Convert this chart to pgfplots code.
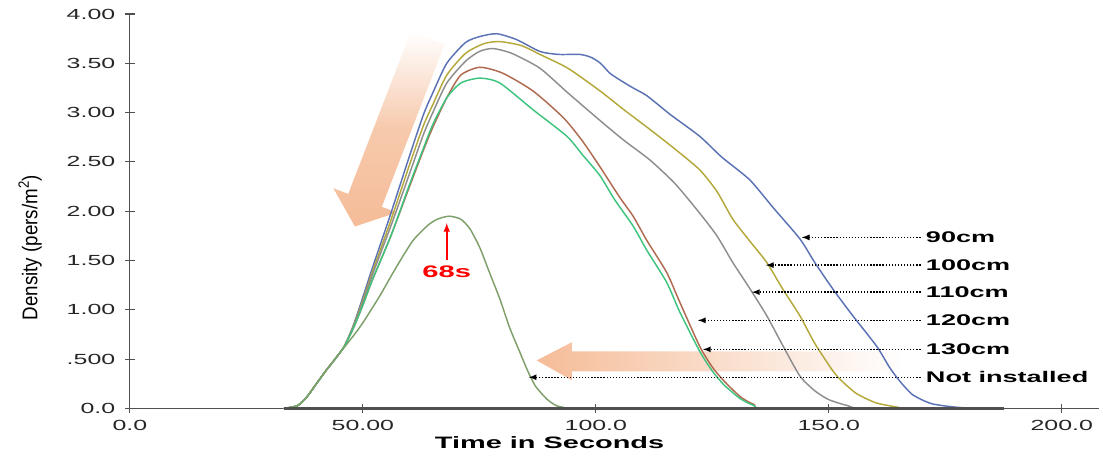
\documentclass[border=0pt]{standalone}
\usepackage{pgfplots}
\pgfplotsset{compat=1.18}
\usepackage{fontspec}
\setmainfont{Liberation Sans}
\newfontfamily\tickfont[FakeStretch=1.7]{Liberation Sans}
\newfontfamily\annfont[FakeStretch=1.75]{Liberation Sans}
\newfontfamily\ylabfont[FakeStretch=0.88]{Liberation Sans}
\definecolor{c90}{HTML}{5B72B5}
\definecolor{c100}{HTML}{B5A83A}
\definecolor{c110}{HTML}{8E8E8E}
\definecolor{c120}{HTML}{B06A50}
\definecolor{c130}{HTML}{3DC47F}
\definecolor{cni}{HTML}{7EA06A}
\definecolor{peach}{HTML}{F5BC98}
\definecolor{axgray}{HTML}{505050}
\begin{document}
\begin{tikzpicture}
\begin{axis}[name=ax, scale only axis, width=727pt, height=296pt,
  xmin=0, xmax=208, ymin=0, ymax=4,
  axis x line=bottom, axis y line=left,
  axis line style={-, axgray, line width=0.8pt},
  xtick={0,50,100,150,200}, xticklabels={0.0,50.00,100.0,150.0,200.0},
  ytick={0,0.5,1,1.5,2,2.5,3,3.5,4},
  yticklabels={0.0,.500,1.00,1.50,2.00,2.50,3.00,3.50,4.00},
  tick align=center, major tick length=7pt,
  tick style={axgray, line width=0.8pt},
  ticklabel style={font={\tickfont\fontsize{11pt}{13pt}\selectfont}, text=black!85},
  yticklabel style={xshift=-4pt},
  xticklabel style={yshift=-2pt},
  xlabel={Time in Seconds},
  xlabel style={at={(axis description cs:0.433,-0.086)}, anchor=center, font={\annfont\bfseries\fontsize{12.4pt}{14pt}\selectfont}},
  ylabel={Density (pers/m\textsuperscript{2})},
  ylabel style={at={(axis description cs:-0.103,0.408)}, anchor=center, font={\ylabfont\fontsize{16pt}{18pt}\selectfont}},
  clip=false,
  every axis plot/.append style={line width=1.1pt, smooth, tension=0.4},
]
% decorative arrows
\shade[top color=white, bottom color=peach, middle color=peach!80]
  (48.28,1.846) -- (57.25,1.987) -- (54.06,2.045) -- (67.55,3.694) -- (60.34,3.826) -- (46.85,2.176) -- (43.65,2.234) -- cycle;
\shade[left color=peach, middle color=peach!92, right color=white]
  (87.3,0.488) -- (94.85,0.672) -- (94.85,0.58) -- (166,0.58) -- (166,0.378) -- (94.85,0.378) -- (94.85,0.287) -- cycle;

\addplot[c90] coordinates {(33,0) (36,0.03) (38,0.12) (40,0.25) (42,0.38) (44,0.5) (46,0.63) (48,0.85) (50,1.13) (52,1.42) (55.8,1.95) (60,2.56) (63,2.98) (65,3.2) (68,3.5) (72,3.71) (75,3.77) (78.7,3.80) (83,3.74) (88,3.62) (92,3.59) (96.6,3.59) (99,3.56) (101,3.50) (103,3.40) (105.2,3.33) (108,3.25) (111,3.17) (116,2.98) (122.3,2.76) (127,2.55) (133,2.32) (138,2.04) (143.8,1.72) (147,1.48) (150.9,1.21) (155,0.95) (160.3,0.63) (163,0.42) (165.2,0.28) (168,0.14) (172,0.05) (177,0.015) (182,0) (187,0)};
\addplot[c100] coordinates {(33,0) (36,0.03) (38,0.12) (40,0.25) (42,0.38) (44,0.5) (46,0.63) (48,0.84) (50,1.1) (52,1.38) (55.8,1.88) (60,2.47) (63,2.87) (65,3.08) (68,3.38) (72,3.6) (76,3.7) (79.4,3.72) (84,3.68) (88,3.59) (94,3.45) (100.9,3.22) (106,3.03) (111.6,2.83) (117,2.63) (122.3,2.42) (126,2.2) (129.4,1.92) (133,1.7) (136.7,1.48) (140,1.22) (143.8,0.94) (147,0.66) (150.9,0.38) (153,0.27) (156,0.15) (160,0.06) (164,0.02) (168,0) (187,0)};
\addplot[c110] coordinates {(33,0) (36,0.03) (38,0.12) (40,0.25) (42,0.38) (44,0.5) (46,0.63) (48,0.83) (50,1.08) (52,1.35) (56,1.85) (60,2.38) (63,2.78) (65,3.0) (68,3.3) (72,3.52) (75,3.62) (77.9,3.65) (82,3.6) (88,3.45) (94,3.2) (100.9,2.92) (106,2.72) (111.6,2.52) (117,2.28) (122.3,1.98) (126,1.75) (129.4,1.48) (133,1.22) (136.7,0.94) (140,0.65) (143.8,0.33) (147,0.18) (150,0.09) (154,0.03) (158,0) (187,0)};
\addplot[c120] coordinates {(33,0) (36,0.03) (38,0.12) (40,0.25) (42,0.38) (44,0.5) (46,0.63) (48,0.82) (50,1.05) (52,1.3) (56,1.75) (60,2.25) (63,2.62) (65,2.85) (68,3.15) (71,3.38) (75.1,3.46) (80,3.40) (86.5,3.22) (93,2.95) (97,2.72) (100.9,2.45) (105,2.15) (108,1.95) (111,1.70) (115.2,1.38) (118,1.08) (122.3,0.63) (125,0.42) (127.5,0.28) (131,0.12) (134,0.04) (138,0) (187,0)};
\addplot[c130] coordinates {(33,0) (36,0.03) (38,0.12) (40,0.25) (42,0.38) (44,0.5) (46,0.63) (48,0.82) (50,1.05) (52,1.3) (56,1.75) (60,2.27) (63,2.64) (65,2.88) (68,3.15) (71,3.3) (75.1,3.35) (79.4,3.30) (86.5,3.03) (93.8,2.76) (97,2.58) (100.9,2.36) (104,2.12) (108,1.85) (111,1.6) (115.2,1.28) (118,0.98) (122.3,0.58) (125,0.38) (127.5,0.24) (131,0.1) (134,0.03) (138,0) (187,0)};
\addplot[cni] coordinates {(33,0) (36,0.03) (38,0.12) (40,0.25) (42,0.38) (44,0.5) (46,0.62) (48,0.74) (50,0.87) (53.6,1.14) (57,1.42) (60.7,1.70) (64,1.86) (66,1.92) (68.5,1.95) (71,1.92) (73,1.82) (75.1,1.63) (77,1.40) (79.4,1.11) (81.5,0.82) (83.7,0.57) (85.2,0.40) (87,0.23) (89.5,0.095) (91.5,0.03) (93.8,0.005) (95,0) (187,0)};
\addplot[axgray, line width=1.6pt, sharp plot] coordinates {(33,0) (187.5,0)};

% annotation arrows
\begin{scope}[line width=1pt, dash pattern=on 1pt off 1.3pt, black]
\draw[-latex] (169.7,1.735) -- (144.2,1.735);
\draw[-latex] (169.7,1.454) -- (136.5,1.454);
\draw[-latex] (169.7,1.180) -- (133.5,1.180);
\draw[-latex] (169.7,0.894) -- (121.9,0.894);
\draw[-latex] (169.7,0.600) -- (123.0,0.600);
\draw[-latex] (169.7,0.317) -- (85.6,0.317);
\end{scope}
\begin{scope}[every node/.style={anchor=west, inner sep=0pt, font={\annfont\bfseries\fontsize{11.6pt}{13pt}\selectfont}}]
\node at (170.8,1.735) {90cm};
\node at (170.8,1.454) {100cm};
\node at (170.8,1.180) {110cm};
\node at (170.8,0.894) {120cm};
\node at (170.8,0.600) {130cm};
\node at (170.8,0.317) {Not installed};
\end{scope}
\draw[red, line width=1.2pt, -latex] (68,1.51) -- (68,1.88);
\node[red, inner sep=0pt, font={\annfont\bfseries\fontsize{12.5pt}{14pt}\selectfont}] at (68,1.39) {68s};
\end{axis}
\pgfresetboundingbox
\path[use as bounding box] ([xshift=-97.5pt,yshift=-35.25pt]ax.south west) rectangle ([xshift=3pt,yshift=10.5pt]ax.north east);
\end{tikzpicture}
\end{document}
